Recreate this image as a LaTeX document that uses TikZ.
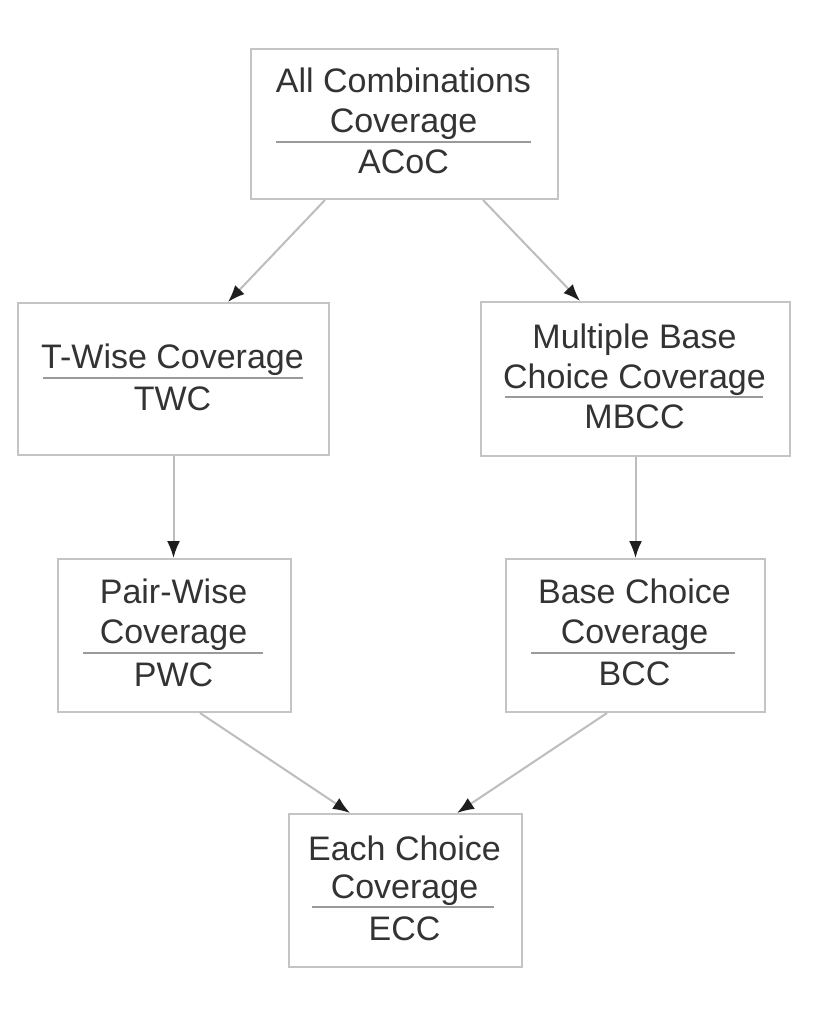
\documentclass[tikz,border=0pt]{standalone}
\usepackage{fontspec}
\setmainfont{Liberation Sans}
\usetikzlibrary{arrows.meta,calc}
\definecolor{boxgray}{HTML}{C4C4C4}
\definecolor{rulegray}{HTML}{9A9A9A}
\definecolor{linegray}{HTML}{BDBDBD}
\definecolor{txt}{HTML}{333333}
\definecolor{tipcol}{HTML}{1E1E1E}
\begin{document}
\begin{tikzpicture}[x=1pt,y=-1pt,
 box/.style={draw=boxgray,line width=2pt,anchor=north west,inner sep=0pt},
 lbl/.style={anchor=base,inner sep=0pt,text=txt,font=\fontsize{34}{40}\selectfont},
 divider/.style={draw=rulegray,line width=1.5pt},
 arr/.style={draw=linegray,line width=2pt,-{Latex[length=17pt,width=13pt,color=tipcol]}}]
\useasboundingbox[fill=white] (0,0) rectangle (827,1017);
% boxes
\node[box,minimum width=307pt,minimum height=150pt] (acoc) at (250,48) {};
\node[box,minimum width=311pt,minimum height=152pt] (twc) at (17,302) {};
\node[box,minimum width=309pt,minimum height=154pt] (mbcc) at (480,301) {};
\node[box,minimum width=233pt,minimum height=153pt] (pwc) at (57,558) {};
\node[box,minimum width=259pt,minimum height=153pt] (bcc) at (505,558) {};
\node[box,minimum width=233pt,minimum height=153pt] (ecc) at (288,813) {};
% ACoC
\node[lbl] (acoc1) at (403.5,92) {All Combinations};
\node[lbl] (acoc2) at (403.5,132) {Coverage};
\draw[divider] (276,142) -- (531,142);
\node[lbl] (acoc3) at (403.5,173) {ACoC};
% TWC
\node[lbl] (twc1) at (172.5,368) {T-Wise Coverage};
\draw[divider] (43,378) -- (303,378);
\node[lbl] (twc2) at (172.5,410) {TWC};
% MBCC
\node[lbl] (mbcc1) at (634.5,348) {Multiple Base};
\node[lbl] (mbcc2) at (634.5,388) {Choice Coverage};
\draw[divider] (505,397) -- (763,397);
\node[lbl] (mbcc3) at (634.5,428) {MBCC};
% PWC
\node[lbl] (pwc1) at (173.5,603) {Pair-Wise};
\node[lbl] (pwc2) at (173.5,643) {Coverage};
\draw[divider] (83,653) -- (263,653);
\node[lbl] (pwc3) at (173.5,686) {PWC};
% BCC
\node[lbl] (bcc1) at (634.5,603) {Base Choice};
\node[lbl] (bcc2) at (634.5,643) {Coverage};
\draw[divider] (531,653) -- (735,653);
\node[lbl] (bcc3) at (634.5,685) {BCC};
% ECC
\node[lbl] (ecc1) at (404.5,860) {Each Choice};
\node[lbl] (ecc2) at (404.5,898) {Coverage};
\draw[divider] (312,907) -- (494,907);
\node[lbl] (ecc3) at (404.5,940) {ECC};
% connectors
\draw[arr] ($(acoc.south west)+(75,0)$) -- ($(twc.north west)+(211,0)$);
\draw[arr] ($(acoc.south west)+(233,0)$) -- ($(mbcc.north west)+(100,0)$);
\draw[arr] (twc.south) -- (twc.south |- pwc.north);
\draw[arr] (mbcc.south) -- (mbcc.south |- bcc.north);
\draw[arr] ($(pwc.south west)+(143,0)$) -- ($(ecc.north west)+(62,0)$);
\draw[arr] ($(bcc.south west)+(102,0)$) -- ($(ecc.north west)+(169,0)$);
\end{tikzpicture}
\end{document}
